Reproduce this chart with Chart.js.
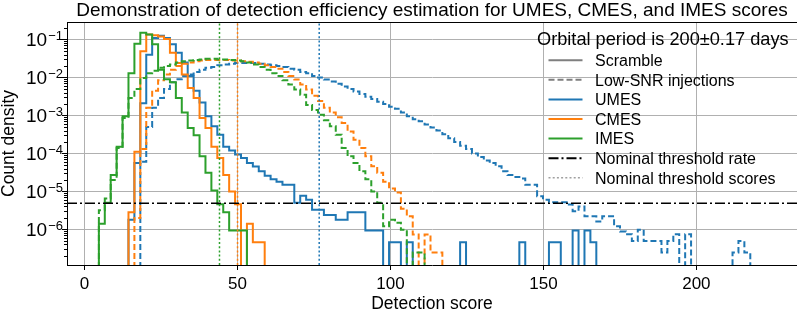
<!DOCTYPE html>
<html>
<head>
<meta charset="utf-8">
<script src="https://cdn.jsdelivr.net/npm/chart.js@4.4.0/dist/chart.umd.min.js"></script>
<style>
  html, body { margin: 0; padding: 0; background: #fff; }
</style>
</head>
<body>
<canvas id="histChart" width="797" height="313"></canvas>
<script>
// shared histogram bins (detection score)
const binStart = 4.67;
const binWidth = 1.936;

// scramble histograms (solid), count density per bin
const umesScrambleFirstBin = 5;
const umesScramble = [
  1.8e-6, 5.6e-5, 2.1e-3, 0.04, 0.11, 0.125, 0.11, 0.075, 0.045, 0.025,
  0.011, 4.5e-3, 2.2e-3, 9.5e-4, 5.2e-4, 3.1e-4, 1.5e-4, 1.2e-4, 9.3e-5, 7.6e-5,
  5.6e-5, 4.5e-5, 3.4e-5, 2.6e-5, 2.1e-5, 1.8e-5, 1.5e-5, 1.5e-5, 5e-6, 7.7e-6,
  6e-6, 3.3e-6, 3.3e-6, 2.4e-6, 2.4e-6, 1.8e-6, 1.8e-6, 2.8e-6, 2.8e-6, 2.8e-6,
  9.3e-7, 9.3e-7, 9.3e-7, 0, 4.6e-7, 4.6e-7, 0, 4.6e-7, 0, 0,
  0, 0, 0, 0, 0, 0, 4.6e-7, 0, 0, 0,
  0, 0, 0, 0, 0, 0, 4.6e-7, 0, 0, 0,
  0, 4.6e-7, 4.6e-7, 0, 0, 9.3e-7, 0, 9.3e-7, 4.6e-7
];
const cmesScrambleFirstBin = 5;
const cmesScramble = [
  2.8e-6, 1.1e-4, 0.049, 0.136, 0.13, 0.12, 0.104, 0.045, 0.024, 0.012,
  5.3e-3, 2.9e-3, 8.6e-4, 4.7e-4, 1.5e-4, 7.6e-5, 2.7e-5, 1e-5, 4.6e-6, 0,
  1.4e-6, 4.6e-7, 4.6e-7
];
const imesScrambleFirstBin = 0;
const imesScramble = [
  1.4e-6, 5e-6, 2.7e-5, 1.5e-4, 9.5e-4, 0.013, 0.078, 0.15, 0.135, 0.075,
  0.016, 0.009, 0.0075, 2.9e-3, 1.2e-3, 4.7e-4, 3e-4, 8.4e-5, 3.1e-5, 1.06e-5,
  4.6e-6, 2.8e-6, 9.3e-7, 9.3e-7, 9.3e-7
];

// low-SNR injection histograms (dashed)
const umesInjectionFirstBin = 7;
const umesInjection = [
  6e-5, 5e-4, 1.6e-3, 2.9e-3, 5e-3, 7.5e-3, 9e-3, 0.011, 0.012, 0.014,
  0.016, 0.018, 0.019, 0.021, 0.022, 0.023, 0.024, 0.024, 0.024, 0.024,
  0.023, 0.022, 0.021, 0.020, 0.019, 0.017, 0.016, 0.014, 0.013, 0.011,
  0.010, 8.8e-3, 7.8e-3, 6.8e-3, 5.8e-3, 5e-3, 4.3e-3, 3.7e-3, 3.1e-3, 2.7e-3,
  2.3e-3, 2e-3, 1.7e-3, 1.5e-3, 1.2e-3, 9.5e-4, 8e-4, 7e-4, 5.8e-4, 4.8e-4,
  4e-4, 3.2e-4, 2.5e-4, 2e-4, 1.6e-4, 1.3e-4, 1e-4, 8e-5, 6.5e-5, 5.6e-5,
  4.6e-5, 3.4e-5, 2.7e-5, 2.4e-5, 2.2e-5, 1.5e-5, 1.5e-5, 7.5e-6, 6e-6, 5.2e-6,
  5.2e-6, 5.2e-6, 4.5e-6, 3e-6, 4e-6, 2.2e-6, 2.2e-6, 1.6e-6, 2.2e-6, 2.2e-6,
  1.2e-6, 8.8e-7, 7.4e-7, 4.9e-7, 9.8e-7, 4.9e-7, 4.9e-7, 4.9e-7, 2.45e-7, 4.9e-7,
  7.4e-7, 0, 7.4e-7, 0, 0, 0, 0, 0, 0, 0,
  2.45e-7, 4.9e-7, 2.45e-7
];
const cmesInjectionFirstBin = 6;
const cmesInjection = [
  2e-6, 1.3e-4, 1.6e-3, 4.5e-3, 8.5e-3, 0.012, 0.016, 0.020, 0.023, 0.025,
  0.027, 0.028, 0.029, 0.029, 0.029, 0.029, 0.028, 0.028, 0.027, 0.026,
  0.025, 0.023, 0.021, 0.019, 0.017, 0.014, 0.011, 8.8e-3, 6.5e-3, 4.8e-3,
  3.3e-3, 2.4e-3, 1.6e-3, 1.2e-3, 9e-4, 6.3e-4, 3.8e-4, 2.3e-4, 1.4e-4, 8.4e-5,
  4.6e-5, 3.1e-5, 1.8e-5, 1.2e-5, 9.3e-6, 3.5e-6, 2.2e-6, 7.3e-7, 0, 7.3e-7,
  2.45e-7, 2.45e-7
];
const imesInjectionFirstBin = 0;
const imesInjection = [
  3.2e-6, 6.5e-6, 2e-5, 1.4e-4, 8.6e-4, 2.9e-3, 5e-3, 9.7e-3, 0.013, 0.015,
  0.018, 0.020, 0.022, 0.025, 0.027, 0.028, 0.029, 0.030, 0.031, 0.031,
  0.030, 0.030, 0.029, 0.028, 0.027, 0.025, 0.022, 0.019, 0.016, 0.013,
  0.011, 8.5e-3, 6.5e-3, 4.8e-3, 3.5e-3, 1.9e-3, 1.4e-3, 1.05e-3, 7.5e-4, 5.2e-4,
  3.1e-4, 1.4e-4, 8.4e-5, 5.6e-5, 3.4e-5, 2.1e-5, 1e-5, 5e-6, 1.2e-6, 1.8e-6,
  1.5e-6, 9.8e-7, 0, 2.45e-7, 2.45e-7
];

const methodNames = ['UMES', 'CMES', 'IMES'];
const thresholdScores = [76.7, 50.0, 44.1];
const thresholdRate = 4.9e-6;
const legendTitle = 'Orbital period is 200\u00b10.17 days';

const xTicks = [0, 50, 100, 150, 200];
const yTickExponents = [-6, -5, -4, -3, -2, -1];

const xMin = -5.75, xMax = 232.9;
const yMin = 1.15e-7, yMax = 0.29;

const FONT = '"Liberation Sans", Arial, Helvetica, sans-serif';
const colors = ['#1f77b4', '#ff7f0e', '#2ca02c'];
const injDash = [6, 3];
const dotDash = [2, 2.2];
const dashDot = [10, 3, 2, 3];

// turn bin values into an outline the way a step histogram looks
function stepPoints(firstBin, values) {
  const floor = 1e-12; // empty bins fall below the axis
  const edge = i => binStart + (firstBin + i) * binWidth;
  const pts = [{ x: edge(0), y: floor }];
  values.forEach((v, i) => pts.push({ x: edge(i), y: v > 0 ? v : floor }));
  pts.push({ x: edge(values.length), y: floor });
  return pts;
}

const scrambleSets = [
  [umesScrambleFirstBin, umesScramble],
  [cmesScrambleFirstBin, cmesScramble],
  [imesScrambleFirstBin, imesScramble]
];
const injectionSets = [
  [umesInjectionFirstBin, umesInjection],
  [cmesInjectionFirstBin, cmesInjection],
  [imesInjectionFirstBin, imesInjection]
];

const datasets = [];
let layer = 20;
methodNames.forEach((name, m) => {
  datasets.push({
    label: name + ' scramble',
    data: stepPoints(scrambleSets[m][0], scrambleSets[m][1]),
    borderColor: colors[m], borderWidth: 2, stepped: true,
    pointRadius: 0, fill: false, order: layer--
  });
  datasets.push({
    label: name + ' injections',
    data: stepPoints(injectionSets[m][0], injectionSets[m][1]),
    borderColor: colors[m], borderWidth: 2, borderDash: injDash, stepped: true,
    pointRadius: 0, fill: false, order: layer--
  });
});
datasets.push({
  label: 'Nominal threshold rate',
  data: [{ x: xMin, y: thresholdRate }, { x: xMax, y: thresholdRate }],
  borderColor: '#000', borderWidth: 1.5, borderDash: dashDot,
  pointRadius: 0, order: layer--
});
methodNames.forEach((name, m) => {
  datasets.push({
    label: name + ' threshold score',
    data: [{ x: thresholdScores[m], y: yMin }, { x: thresholdScores[m], y: yMax }],
    borderColor: colors[m], borderWidth: 1.5, borderDash: dotDash,
    pointRadius: 0, order: layer--
  });
});

const legendEntries = [
  { label: 'Scramble', color: '#7f7f7f', dash: [] },
  { label: 'Low-SNR injections', color: '#7f7f7f', dash: injDash },
  { label: methodNames[0], color: colors[0], dash: [] },
  { label: methodNames[1], color: colors[1], dash: [] },
  { label: methodNames[2], color: colors[2], dash: [] },
  { label: 'Nominal threshold rate', color: '#000', dash: dashDot },
  { label: 'Nominal threshold scores', color: '#a0a0a0', dash: dotDash }
];

const decorations = {
  id: 'decorations',
  afterDraw(chart) {
    const { ctx, chartArea: a, scales: { x, y } } = chart;
    ctx.save();

    // top spine
    ctx.strokeStyle = '#000';
    ctx.lineWidth = 1;
    ctx.beginPath();
    ctx.moveTo(a.left, a.top + 0.5);
    ctx.lineTo(a.right, a.top + 0.5);
    ctx.stroke();

    // minor log ticks
    ctx.beginPath();
    for (let n = -8; n <= 0; n++) {
      for (let k = 2; k <= 9; k++) {
        const v = k * Math.pow(10, n);
        if (v < yMin || v > yMax) continue;
        const py = Math.round(y.getPixelForValue(v)) + 0.5;
        ctx.moveTo(a.left - 3, py);
        ctx.lineTo(a.left, py);
      }
    }
    ctx.stroke();

    ctx.fillStyle = '#000';
    // x tick labels
    ctx.font = '17px ' + FONT;
    ctx.textAlign = 'center';
    ctx.textBaseline = 'alphabetic';
    xTicks.forEach(t => ctx.fillText(String(t), x.getPixelForValue(t), 288.5));

    // y tick labels 10^n
    yTickExponents.forEach(e => {
      const py = y.getPixelForValue(Math.pow(10, e));
      const sup = '\u2212' + Math.abs(e);
      ctx.textAlign = 'right';
      ctx.font = '13px ' + FONT;
      const supW = ctx.measureText(sup).width;
      ctx.fillText(sup, a.left - 4, py + 0.5);
      ctx.font = '19px ' + FONT;
      ctx.fillText('10', a.left - 5 - supW, py + 6.8);
    });

    // axis titles
    ctx.font = '17.5px ' + FONT;
    ctx.textAlign = 'center';
    ctx.fillText('Detection score', (a.left + a.right) / 2, 309);
    ctx.save();
    ctx.translate(13.5, (a.top + a.bottom) / 2);
    ctx.rotate(-Math.PI / 2);
    ctx.fillText('Count density', 0, 0);
    ctx.restore();

    // title
    ctx.font = '19px ' + FONT;
    ctx.fillText('Demonstration of detection efficiency estimation for UMES, CMES, and IMES scores',
      (a.left + a.right) / 2, 16);

    // legend
    ctx.textAlign = 'left';
    ctx.font = '18.2px ' + FONT;
    ctx.fillText(legendTitle, 537, 45);
    ctx.font = '16px ' + FONT;
    legendEntries.forEach((it, i) => {
      const base = 66 + i * 19.6;
      ctx.strokeStyle = it.color;
      ctx.lineWidth = it.dash === dotDash ? 1.5 : 2;
      ctx.setLineDash(it.dash);
      ctx.beginPath();
      ctx.moveTo(548.5, base - 5.8);
      ctx.lineTo(582.5, base - 5.8);
      ctx.stroke();
      ctx.setLineDash([]);
      ctx.fillText(it.label, 595, base);
    });
    ctx.restore();
  }
};

new Chart(document.getElementById('histChart').getContext('2d'), {
  type: 'line',
  data: { datasets },
  options: {
    responsive: false,
    animation: false,
    devicePixelRatio: 1,
    events: [],
    layout: { padding: { top: 22, right: 0, bottom: 0, left: 0 } },
    plugins: { legend: { display: false }, tooltip: { enabled: false }, title: { display: false } },
    scales: {
      x: {
        type: 'linear', min: xMin, max: xMax,
        afterBuildTicks: s => { s.ticks = xTicks.map(v => ({ value: v })); },
        afterFit: s => { s.height = 48; },
        grid: { color: '#b0b0b0', lineWidth: 1, tickColor: '#000', tickLength: 5, tickWidth: 1 },
        border: { color: '#000', width: 1 },
        ticks: { display: false }
      },
      y: {
        type: 'logarithmic', min: yMin, max: yMax,
        afterBuildTicks: s => { s.ticks = yTickExponents.map(e => ({ value: Math.pow(10, e) })); },
        afterFit: s => { s.width = 67; },
        grid: { color: '#b0b0b0', lineWidth: 1, tickColor: '#000', tickLength: 5, tickWidth: 1 },
        border: { color: '#000', width: 1 },
        ticks: { display: false }
      }
    }
  },
  plugins: [decorations]
});
</script>
</body>
</html>
